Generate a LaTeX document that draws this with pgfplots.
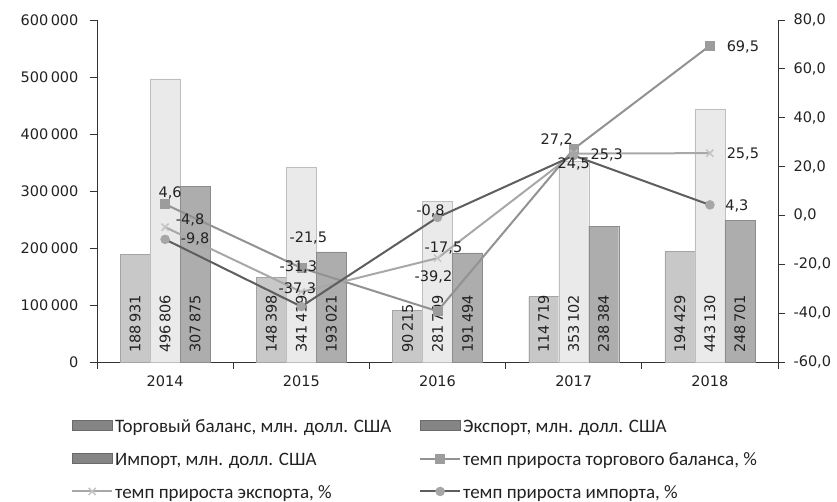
\documentclass[border=0pt]{standalone}
\usepackage{fontspec}
\setmainfont{DejaVu Sans}
\newfontfamily\carlito{Carlito}
\usepackage{pgfplots}
\usepackage{pgfplotstable}
\pgfplotsset{compat=1.18}

\definecolor{tbfill}{HTML}{C8C8C8}
\definecolor{tbedge}{HTML}{A4A4A4}
\definecolor{exfill}{HTML}{EAEAEA}
\definecolor{exedge}{HTML}{BEBEBE}
\definecolor{imfill}{HTML}{ADADAD}
\definecolor{imedge}{HTML}{8C8C8C}
\definecolor{tbline}{HTML}{929292}
\definecolor{tbmark}{HTML}{9C9C9C}
\definecolor{exline}{HTML}{A8A8A8}
\definecolor{exmark}{HTML}{C4C4C4}
\definecolor{imline}{HTML}{5E5E5E}
\definecolor{immark}{HTML}{A6A6A6}
\definecolor{txt}{HTML}{222222}
\definecolor{axl}{HTML}{333333}
\definecolor{lgbar}{HTML}{858585}
\definecolor{lgbaredge}{HTML}{6A6A6A}

\pgfplotstableread{
x tb ex im
0 188931 496806 307875
1 148398 341419 193021
2 90215 281709 191494
3 114719 353102 238384
4 194429 443130 248701
}\bars

\pgfplotstableread{
x y dx dy
0 4.6 5 11
1 -21.5 7 30
2 -39.2 -4 34
3 27.2 -17 9
4 69.5 33 -1
}\tbg
\pgfplotstableread{
x y dx dy
0 -4.8 25 7
1 -31.3 -3 25
2 -17.5 6 10
3 25.3 33 -1
4 25.5 33 -1
}\exg
\pgfplotstableread{
x y dx dy
0 -9.8 30 0
1 -37.3 -4 18
2 -0.8 -7 6
3 24.5 0 -8
4 4.3 27 -1
}\img

\pgfplotsset{
  lab/.style={
    visualization depends on={\thisrow{dx}\as\labdx},
    visualization depends on={\thisrow{dy}\as\labdy},
    nodes near coords,
    nodes near coords style={anchor=center, xshift=\labdx pt, yshift=\labdy pt, text=txt, inner sep=0pt},
  },
  barlab/.style={draw=none, fill=none, bar shift=#1, point meta=explicit, nodes near coords,
    nodes near coords style={rotate=90, anchor=west, inner xsep=9pt, text=txt}},
}

\begin{document}
\begin{tikzpicture}[font=\fontsize{14.5}{17}\selectfont]
\begin{axis}[
  name=ax,
  scale only axis, width=681pt, height=342pt,
  xmin=-0.5, xmax=4.5, ymin=0, ymax=600000,
  axis x line*=bottom, axis y line*=left,
  axis line style={-, axl, line width=0.8pt},
  xtick={-0.5,0.5,...,4.5},
  xticklabels={2014,2015,2016,2017,2018,{}},
  xticklabel style={xshift=68.1pt, yshift=-3pt, text=txt},
  ytick={0,100000,...,600000},
  tick style={axl, line width=0.8pt},
  tick align=outside, major tick length=7pt,
  scaled y ticks=false,
  /pgf/number format/.cd, fixed, precision=0, 1000 sep={\,}, assume math mode=true,
  /pgfplots/.cd,
  yticklabel style={xshift=-8pt, text=txt},
  ybar=0pt, bar width=30pt,
  clip=false,
]
\addplot[fill=tbfill, draw=tbedge, bar shift=-30pt] table[x=x,y=tb]{\bars};
\addplot[fill=exfill, draw=exedge, bar shift=0pt] table[x=x,y=ex]{\bars};
\addplot[fill=imfill, draw=imedge, bar shift=30pt] table[x=x,y=im]{\bars};
\addplot[barlab=-30pt] table[x=x, y expr=0, meta=tb]{\bars};
\addplot[barlab=0pt] table[x=x, y expr=0, meta=ex]{\bars};
\addplot[barlab=30pt] table[x=x, y expr=0, meta=im]{\bars};
\end{axis}

\begin{axis}[
  scale only axis, width=681pt, height=342pt,
  xmin=-0.5, xmax=4.5, ymin=-60, ymax=80,
  axis y line*=right, axis x line=none,
  axis line style={-, axl, line width=0.8pt},
  ytick={-60,-40,...,80},
  tick style={axl, line width=0.8pt},
  tick align=outside, major tick length=7pt,
  /pgf/number format/.cd, fixed, fixed zerofill, precision=1, use comma, assume math mode=true,
  /pgfplots/.cd,
  yticklabel style={xshift=5pt, text=txt},
  clip=false,
  legend image code/.code={\draw[mark repeat=2, mark phase=2, #1] plot coordinates {(0pt,0pt) (20pt,0pt) (40pt,0pt)};},
  legend columns=2,
  legend style={draw=none, fill=none, inner xsep=0pt, inner ysep=0pt,
    at={(axis description cs:-0.0382,-0.155)}, anchor=north west,
    font=\fontsize{19}{22}\carlito, text=txt,
    cells={anchor=west}, row sep=12pt,
    nodes={inner sep=2pt}},
]
\addlegendimage{legend image code/.code={\draw[fill=lgbar, draw=lgbaredge] (0pt,-5pt) rectangle (40pt,5pt);}}
\addlegendentry{\makebox[302pt][l]{\strut Торговый баланс, млн. долл. США}}
\addlegendimage{legend image code/.code={\draw[fill=lgbar, draw=lgbaredge] (0pt,-5pt) rectangle (40pt,5pt);}}
\addlegendentry{\strut Экспорт, млн. долл. США}
\addlegendimage{legend image code/.code={\draw[fill=lgbar, draw=lgbaredge] (0pt,-5pt) rectangle (40pt,5pt);}}
\addlegendentry{\makebox[302pt][l]{\strut Импорт, млн. долл. США}}

\addplot[tbline, line width=2pt, mark=square*, mark size=4.5pt,
  mark options={fill=tbmark, draw=tbmark, line width=0.5pt}, lab]
  table[x=x, y=y]{\tbg};
\addlegendentry{\strut темп прироста торгового баланса, \%}
\addplot[exline, line width=2pt, mark=x, mark size=5pt,
  mark options={draw=exmark, line width=1.5pt}, lab]
  table[x=x, y=y]{\exg};
\addlegendentry{\makebox[302pt][l]{\strut темп прироста экспорта, \%}}
\addplot[imline, line width=2pt, mark=*, mark size=4.5pt,
  mark options={fill=immark, draw=immark, line width=0.5pt}, lab]
  table[x=x, y=y]{\img};
\addlegendentry{\strut темп прироста импорта, \%}
\end{axis}
\pgfresetboundingbox
\path ([xshift=-97pt,yshift=-140pt]ax.south west) rectangle ([xshift=59pt,yshift=20pt]ax.north east);
\end{tikzpicture}
\end{document}
